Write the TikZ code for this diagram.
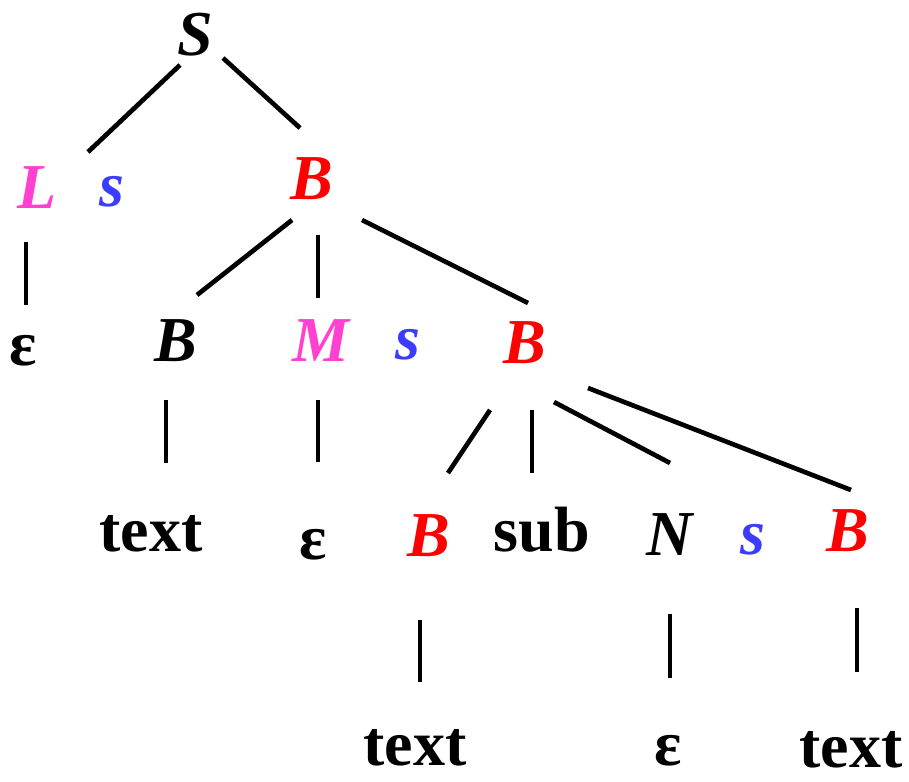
\documentclass[tikz,border=0pt]{standalone}
\usepackage{fontspec}
\setmainfont{Liberation Serif}
\usetikzlibrary{positioning}
\definecolor{ntPink}{HTML}{FF40D0}
\definecolor{tkBlue}{HTML}{3C3CFF}
\definecolor{ntRed}{HTML}{FF0000}

\begin{document}
\begin{tikzpicture}[x=0.75pt, y=-0.75pt,
    every node/.style={inner sep=0pt, font=\fontsize{48}{52}\selectfont\bfseries},
    nt/.style={font=\fontsize{48}{52}\selectfont\bfseries\itshape},
    tk/.style={font=\fontsize{48}{52}\selectfont\bfseries},
    branch/.style={line width=3.5pt}]
    \useasboundingbox (0,0) rectangle (909,781);
    % level 0 and 1
    \node[nt] (S) at (195,35) {S};
    \node[nt, text=ntPink] (L) at (37,188) {L};
    \node[nt, text=tkBlue] (s1) at (112,192) {s};
    \node[nt, text=ntRed] (B1) at (312,179) {B};
    % level 2
    \node[tk] (eps1) at (23,351) {ε};
    \node[nt] (B2) at (176,341) {B};
    \node[nt, text=ntPink] (M) at (321,341) {M};
    \node[nt, text=tkBlue] (s2) at (408,345) {s};
    \node[nt, text=ntRed] (B3) at (525,343) {B};
    % level 3
    \node[tk] (txt1) at (151,534) {text};
    \node[tk] (eps2) at (313,545) {ε};
    \node[nt, text=ntRed] (B4) at (429,536) {B};
    \node[tk] (sub) at (542,530) {sub};
    \node[nt] (N) at (670,535) {N};
    \node[nt, text=tkBlue] (s3) at (753,540) {s};
    \node[nt, text=ntRed] (B5) at (848,531) {B};
    % level 4
    \node[tk] (txt2) at (415,748) {text};
    \node[tk] (eps3) at (668,751) {ε};
    \node[tk] (txt3) at (851,750) {text};

    \draw[branch] ([shift={(-15,30)}]S.center) -- ([shift={(51,-36)}]L.center);
    \draw[branch] ([shift={(28,23)}]S.center) -- ([shift={(-12,-51)}]B1.center);
    \draw[branch] ([shift={(-11,54)}]L.center) -- ([shift={(3,-46)}]eps1.center);
    \draw[branch] ([shift={(-20,41)}]B1.center) -- ([shift={(21,-46)}]B2.center);
    \draw[branch] ([shift={(6,56)}]B1.center) -- ([shift={(-3,-43)}]M.center);
    \draw[branch] ([shift={(50,41)}]B1.center) -- ([shift={(3,-40)}]B3.center);
    \draw[branch] ([shift={(-10,59)}]B2.center) -- ([shift={(15,-71)}]txt1.center);
    \draw[branch] ([shift={(-3,59)}]M.center) -- ([shift={(5,-83)}]eps2.center);
    \draw[branch] ([shift={(-35,67)}]B3.center) -- ([shift={(19,-63)}]B4.center);
    \draw[branch] ([shift={(7,67)}]B3.center) -- ([shift={(-10,-57)}]sub.center);
    \draw[branch] ([shift={(29,59)}]B3.center) -- ([shift={(0,-72)}]N.center);
    \draw[branch] ([shift={(63,45)}]B3.center) -- ([shift={(3,-41)}]B5.center);
    \draw[branch] ([shift={(-9,84)}]B4.center) -- ([shift={(5,-66)}]txt2.center);
    \draw[branch] ([shift={(0,79)}]N.center) -- ([shift={(2,-73)}]eps3.center);
    \draw[branch] ([shift={(9,77)}]B5.center) -- ([shift={(6,-78)}]txt3.center);
\end{tikzpicture}
\end{document}
